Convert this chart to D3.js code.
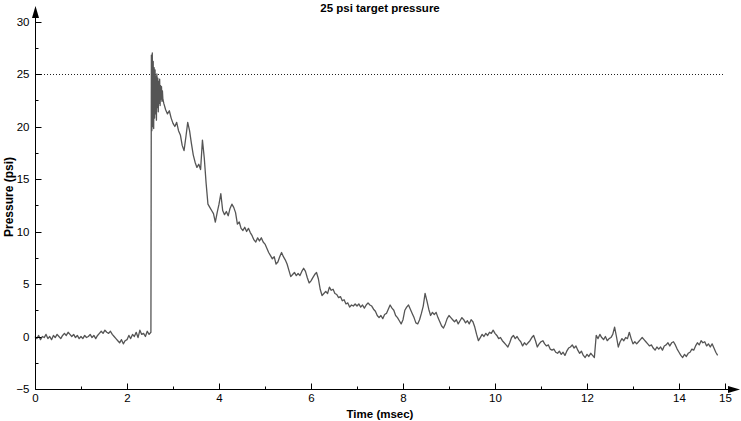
<!DOCTYPE html>
<html>
<head>
<meta charset="utf-8">
<script src="https://cdn.jsdelivr.net/npm/d3@7"></script>
<style>
  html, body { margin: 0; padding: 0; background: #fff; }
  svg { display: block; font-family: "Liberation Sans", Arial, sans-serif; }
</style>
</head>
<body>
<svg id="chart" width="741" height="421"></svg>
<script>
// ---------------- data ----------------
const title = "25 psi target pressure";
const xLabel = "Time (msec)";
const yLabel = "Pressure (psi)";
const targetPressure = 25;
const xTicks = [0, 2, 4, 6, 8, 10, 12, 14, 15];
const xMinorTicks = [1, 3, 5, 7, 9, 11, 13];
const yTicks = [-5, 0, 5, 10, 15, 20, 25, 30];
const yMinorTicks = [-2.5, 2.5, 7.5, 12.5, 17.5, 22.5, 27.5];

// pressure samples (psi), one every sampleInterval msec starting at 0
const sampleInterval = 0.04;
const pressure = [
  // 0.00 - 0.96
  0.0,-0.2,0.1,-0.3,0.0,-0.1,0.2,-0.2,0.0,-0.3,0.1,-0.1,0.2,0.0,-0.2,0.1,0.3,0.1,0.4,0.2,0.0,0.2,-0.1,0.1,-0.2,
  // 1.00 - 1.96
  0.0,-0.2,0.1,-0.1,0.0,0.2,-0.1,0.1,-0.2,0.1,0.3,0.5,0.3,0.6,0.4,0.3,0.5,0.2,0.0,-0.2,-0.4,-0.6,-0.3,-0.7,-0.4,
  // 2.00 - 2.96 (nulls: burst section listed separately)
  -0.3,0.1,-0.2,0.2,0.0,0.4,-0.1,0.6,0.2,0.3,0.0,0.5,0.2,0.4,null,null,null,null,null,null,22.2,21.6,21.2,21.5,20.8,
  // 3.00 - 3.96
  20.3,20.0,20.4,19.6,19.2,18.2,17.7,19.0,20.4,19.6,18.4,17.3,16.6,16.1,16.4,15.9,18.7,17.0,14.6,12.6,12.3,12.0,11.7,10.9,11.8,
  // 4.00 - 4.96
  12.6,13.6,12.0,11.6,11.9,11.5,12.2,12.6,12.3,11.8,10.7,10.9,10.3,10.1,10.4,10.0,10.3,9.9,9.6,9.2,9.0,9.4,9.1,9.4,9.0,
  // 5.00 - 5.96
  8.8,8.4,8.0,7.7,7.4,7.6,6.9,7.1,7.6,8.0,7.6,7.3,6.9,6.3,5.7,5.9,6.1,5.8,6.0,5.8,6.2,6.5,6.2,5.6,5.1,
  // 6.00 - 6.96
  5.3,5.6,5.9,6.1,5.5,4.5,3.9,4.1,4.3,4.1,4.7,4.4,4.5,4.1,4.0,3.7,3.8,3.4,3.5,3.1,3.2,2.8,3.0,2.9,3.1,
  // 7.00 - 7.96
  2.9,3.1,2.8,3.0,2.7,3.0,3.2,3.0,2.9,2.6,2.4,2.0,1.8,2.0,1.7,2.1,2.2,2.6,3.0,2.7,2.5,2.0,1.8,1.5,1.2,
  // 8.00 - 8.96
  1.6,2.5,2.8,3.0,2.6,2.2,1.8,1.3,1.2,1.6,2.2,2.9,4.1,3.4,2.6,2.0,2.3,2.1,2.3,1.8,1.4,1.0,0.8,1.2,1.7,
  // 9.00 - 9.96
  2.0,1.8,1.6,1.4,1.6,1.2,1.5,1.8,1.6,1.3,1.5,1.2,1.6,1.4,0.9,0.2,-0.4,-0.1,0.2,0.0,0.3,0.1,0.4,0.3,0.6,
  // 10.00 - 10.96
  0.3,0.1,-0.2,-0.1,-0.4,-0.6,-0.8,-1.0,-0.6,-0.1,0.1,-0.2,0.0,-0.3,-0.5,-0.9,-0.6,-0.8,-0.6,-0.4,-0.1,0.1,-0.4,-1.0,-0.7,
  // 11.00 - 11.96
  -0.5,-0.4,-0.7,-0.9,-0.8,-1.2,-1.3,-1.2,-1.5,-1.6,-1.4,-1.7,-1.5,-1.8,-1.4,-1.1,-1.0,-0.8,-1.1,-0.9,-1.3,-1.6,-1.4,-1.8,-2.0,
  // 12.00 - 12.96
  -1.7,-1.9,-1.6,-1.8,-2.0,0.1,-0.2,0.2,-0.1,-0.3,0.0,-0.4,-0.2,-0.1,0.2,0.9,0.0,-1.0,-0.5,-0.2,-0.4,-0.1,-0.2,0.4,-0.2,
  // 13.00 - 13.96
  -0.7,-0.5,-0.7,-0.5,-0.3,-0.1,-0.3,-0.5,-0.7,-0.9,-0.8,-1.1,-1.3,-1.0,-1.2,-1.0,-1.3,-0.9,-0.8,-0.6,-0.9,-0.6,-0.5,-0.8,-1.2,
  // 14.00 - 14.84
  -1.5,-1.8,-2.0,-1.7,-1.9,-1.6,-1.5,-1.2,-1.3,-0.9,-0.6,-0.8,-0.4,-0.6,-0.5,-0.9,-0.7,-1.0,-0.7,-1.1,-1.5,-1.8
];

// ringing burst right after the pressure jump
const burstTime = [2.53,2.54,2.55,2.56,2.57,2.58,2.59,2.60,2.61,2.62,2.63,2.64,2.65,2.66,2.67,2.68,2.69,2.70,2.71,2.72,2.73,2.74,2.75,2.76,2.77,2.78];
const burstPressure = [26.8,19.6,27.0,20.0,26.2,19.8,25.6,20.8,25.4,21.2,24.8,20.6,25.0,21.8,24.6,21.4,24.3,22.2,24.5,22.0,23.9,22.6,23.8,22.4,23.4,22.6];

// ---------------- build series ----------------
const series = [];
pressure.forEach((p, i) => { if (p !== null) series.push({ t: i * sampleInterval, p }); });
burstTime.forEach((t, i) => series.push({ t, p: burstPressure[i] }));
series.sort((a, b) => a.t - b.t);

// ---------------- chart ----------------
const svg = d3.select("#chart");
const x = d3.scaleLinear().domain([0, 15]).range([35, 725]);
const y = d3.scaleLinear().domain([-5, 30]).range([389, 21.5]);
const FONT = "Liberation Sans, Arial, sans-serif";

// target dotted line
svg.append("line")
  .attr("x1", x(0)).attr("x2", x(15))
  .attr("y1", Math.round(y(targetPressure)) + 0.5).attr("y2", Math.round(y(targetPressure)) + 0.5)
  .attr("stroke", "#222").attr("stroke-width", 1).attr("stroke-dasharray", "1,2");

// data line
svg.append("path")
  .datum(series)
  .attr("fill", "none")
  .attr("stroke", "#555")
  .attr("stroke-width", 1.3)
  .attr("stroke-linejoin", "round")
  .attr("d", d3.line().x(d => x(d.t)).y(d => y(d.p)));

// axes
const xAxisY = y(-5) + 0.5;
const yAxisX = x(0) + 0.5;

const xAxis = svg.append("g").attr("transform", `translate(0,${xAxisY})`);
xAxis.call(d3.axisBottom(x).tickValues(xTicks).tickSize(0).tickPadding(4).tickFormat(d3.format("d")));
xAxis.select(".domain").remove();
xAxis.selectAll("text").attr("font-size", 11.5).attr("fill", "#000").attr("font-family", FONT);
xAxis.selectAll(".majt").data(xTicks).join("line")
  .attr("x1", d => Math.round(x(d)) + 0.5).attr("x2", d => Math.round(x(d)) + 0.5)
  .attr("y1", 0).attr("y2", -6).attr("stroke", "#000");
xAxis.selectAll(".mint").data(xMinorTicks).join("line")
  .attr("x1", d => Math.round(x(d)) + 0.5).attr("x2", d => Math.round(x(d)) + 0.5)
  .attr("y1", 0).attr("y2", -3).attr("stroke", "#000");

const yAxis = svg.append("g").attr("transform", `translate(${yAxisX},0)`);
yAxis.call(d3.axisLeft(y).tickValues(yTicks).tickSize(0).tickPadding(6).tickFormat(d3.format("d")));
yAxis.select(".domain").remove();
yAxis.selectAll("text").attr("font-size", 11.5).attr("fill", "#000").attr("font-family", FONT);
yAxis.selectAll(".majt").data(yTicks).join("line")
  .attr("y1", d => Math.round(y(d)) + 0.5).attr("y2", d => Math.round(y(d)) + 0.5)
  .attr("x1", 0).attr("x2", 6).attr("stroke", "#000");
yAxis.selectAll(".mint").data(yMinorTicks).join("line")
  .attr("y1", d => Math.round(y(d)) + 0.5).attr("y2", d => Math.round(y(d)) + 0.5)
  .attr("x1", 0).attr("x2", 3).attr("stroke", "#000");

// axis lines with arrows
svg.append("line").attr("x1", yAxisX).attr("x2", 733).attr("y1", xAxisY).attr("y2", xAxisY).attr("stroke", "#000");
svg.append("path").attr("d", `M740,${xAxisY} L728,${xAxisY - 3.5} L728,${xAxisY + 3.5} Z`).attr("fill", "#000");
svg.append("line").attr("x1", yAxisX).attr("x2", yAxisX).attr("y1", xAxisY).attr("y2", 14).attr("stroke", "#000");
svg.append("path").attr("d", `M${yAxisX},6 L${yAxisX - 3.5},18 L${yAxisX + 3.5},18 Z`).attr("fill", "#000");

// texts
svg.append("text").attr("x", 380).attr("y", 12).attr("text-anchor", "middle")
  .attr("font-size", 11.5).attr("font-weight", "bold").attr("font-family", FONT).text(title);
svg.append("text").attr("x", 380).attr("y", 418).attr("text-anchor", "middle")
  .attr("font-size", 11.5).attr("font-weight", "bold").attr("font-family", FONT).text(xLabel);
svg.append("text").attr("transform", "translate(13,197) rotate(-90)").attr("text-anchor", "middle")
  .attr("font-size", 12).attr("font-weight", "bold").attr("font-family", FONT).text(yLabel);
</script>
</body>
</html>
